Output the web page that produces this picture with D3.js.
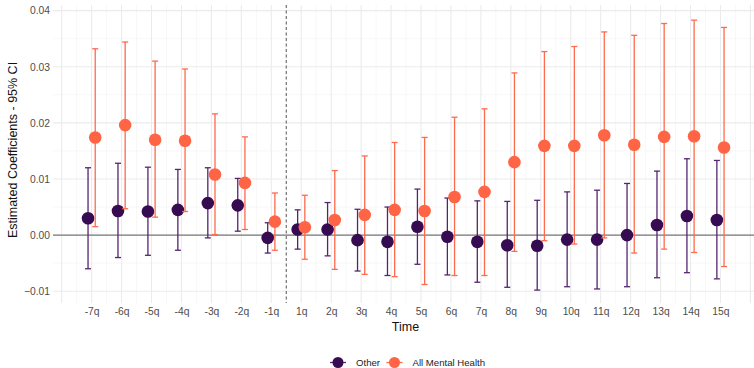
<!DOCTYPE html>
<html>
<head>
<meta charset="utf-8">
<script src="https://cdn.jsdelivr.net/npm/d3@7"></script>
<style>
  html, body { margin: 0; padding: 0; background: #fff; }
  svg { display: block; font-family: "Liberation Sans", Arial, Helvetica, sans-serif; }
</style>
</head>
<body>
<svg id="chart" width="754" height="368"></svg>
<script>
// Event-study quarters relative to treatment
const periods = ["-7q","-6q","-5q","-4q","-3q","-2q","-1q","1q","2q","3q","4q","5q","6q","7q","8q","9q","10q","11q","12q","13q","14q","15q"];

// "Other" series: estimate and 95% CI bounds
const otherEst = [0.0030, 0.0043, 0.0042, 0.0045, 0.0057, 0.0053, -0.0005, 0.0010, 0.0010, -0.0009, -0.0012, 0.0015, -0.0003, -0.0012, -0.0018, -0.0019, -0.0008, -0.0008, 0.0000, 0.0018, 0.0034, 0.0027];
const otherLo  = [-0.0060, -0.0040, -0.0036, -0.0027, -0.0005, 0.0007, -0.0032, -0.0025, -0.0037, -0.0064, -0.0072, -0.0052, -0.0071, -0.0084, -0.0093, -0.0098, -0.0092, -0.0096, -0.0092, -0.0076, -0.0067, -0.0078];
const otherHi  = [0.0120, 0.0128, 0.0121, 0.0117, 0.0120, 0.0101, 0.0022, 0.0045, 0.0058, 0.0046, 0.0050, 0.0082, 0.0066, 0.0061, 0.0060, 0.0062, 0.0077, 0.0080, 0.0092, 0.0114, 0.0136, 0.0133];

// "All Mental Health" series: estimate and 95% CI bounds
const mhEst = [0.0174, 0.0196, 0.0170, 0.0168, 0.0108, 0.0093, 0.0024, 0.0014, 0.0027, 0.0036, 0.0045, 0.0043, 0.0068, 0.0077, 0.0130, 0.0159, 0.0159, 0.0178, 0.0161, 0.0175, 0.0176, 0.0156];
const mhLo  = [0.0015, 0.0047, 0.0032, 0.0042, 0.0001, 0.0010, -0.0027, -0.0043, -0.0061, -0.0070, -0.0074, -0.0088, -0.0072, -0.0072, -0.0029, -0.0010, -0.0016, -0.0005, -0.0032, -0.0025, -0.0031, -0.0056];
const mhHi  = [0.0332, 0.0344, 0.0310, 0.0296, 0.0216, 0.0175, 0.0075, 0.0071, 0.0115, 0.0141, 0.0165, 0.0174, 0.0210, 0.0225, 0.0289, 0.0327, 0.0336, 0.0362, 0.0356, 0.0377, 0.0383, 0.0370];

const yTicks = [-0.01, 0.00, 0.01, 0.02, 0.03, 0.04];
const yMinor = [-0.005, 0.005, 0.015, 0.025, 0.035];

const seriesNames = ["Other", "All Mental Health"];
const dotColors = ["#370b52", "#ff6444"];
const barColors = ["#56246f", "#ff6a4c"];

const svg = d3.select("#chart");
const panel = { left: 53, right: 754, top: 5, bottom: 303 };

const x = d3.scaleLinear().domain([-1.29, 22.12]).range([panel.left, panel.right]);
const y = d3.scaleLinear().domain([-0.0121, 0.041]).range([panel.bottom, panel.top]);

// Grid: minor lines, then major lines
const grid = svg.append("g");
const xMinor = d3.range(-0.5, 22, 1);
const xMajor = d3.range(-1, 23, 1);
grid.selectAll(".vmin").data(xMinor).join("line")
  .attr("x1", d => x(d)).attr("x2", d => x(d))
  .attr("y1", panel.top).attr("y2", panel.bottom)
  .attr("stroke", "#f1f1f1").attr("stroke-width", 0.6);
grid.selectAll(".hmin").data(yMinor).join("line")
  .attr("x1", panel.left).attr("x2", panel.right)
  .attr("y1", d => y(d)).attr("y2", d => y(d))
  .attr("stroke", "#f1f1f1").attr("stroke-width", 0.6);
grid.selectAll(".vmaj").data(xMajor).join("line")
  .attr("x1", d => x(d)).attr("x2", d => x(d))
  .attr("y1", panel.top).attr("y2", panel.bottom)
  .attr("stroke", "#ebebeb").attr("stroke-width", 1.1);
grid.selectAll(".hmaj").data(yTicks).join("line")
  .attr("x1", panel.left).attr("x2", panel.right)
  .attr("y1", d => y(d)).attr("y2", d => y(d))
  .attr("stroke", "#ebebeb").attr("stroke-width", 1.1);

// Zero reference line
svg.append("line")
  .attr("x1", panel.left).attr("x2", panel.right)
  .attr("y1", y(0)).attr("y2", y(0))
  .attr("stroke", "#7a7a7a").attr("stroke-width", 1.4);

// Treatment onset between -1q and 1q
svg.append("line")
  .attr("x1", x(6.5)).attr("x2", x(6.5))
  .attr("y1", panel.top).attr("y2", panel.bottom)
  .attr("stroke", "#666").attr("stroke-width", 1.1)
  .attr("stroke-dasharray", "3,2.5");

// Y axis
const yAxis = d3.axisLeft(y).tickValues(yTicks).tickFormat(d3.format(".2f")).tickSize(0).tickPadding(3);
const gy = svg.append("g").attr("transform", `translate(${panel.left},0)`).call(yAxis);
gy.select(".domain").remove();
gy.selectAll("text").attr("fill", "#4d4d4d").style("font-size", "10.3px");

// X axis
const xAxis = d3.axisBottom(x).tickValues(d3.range(periods.length)).tickFormat(i => periods[i]).tickSize(0).tickPadding(5);
const gx = svg.append("g").attr("transform", `translate(0,${panel.bottom})`).call(xAxis);
gx.select(".domain").remove();
gx.selectAll("text").attr("fill", "#4d4d4d").style("font-size", "10.3px");

// Axis titles
svg.append("text")
  .attr("x", 405.5).attr("y", 331)
  .attr("text-anchor", "middle").style("font-size", "12.5px").attr("fill", "#111")
  .text("Time");
svg.append("text")
  .attr("transform", `translate(17,150) rotate(-90)`)
  .attr("text-anchor", "middle").style("font-size", "12.5px").attr("fill", "#111")
  .text("Estimated Coefficients - 95% CI");

// Series
const series = [
  { est: otherEst, lo: otherLo, hi: otherHi, dodge: -0.12 },
  { est: mhEst, lo: mhLo, hi: mhHi, dodge: 0.12 }
];
const capHalf = 3;
series.forEach((s, k) => {
  const g = svg.append("g");
  const rows = periods.map((p, i) => ({ i, est: s.est[i], lo: s.lo[i], hi: s.hi[i] }));
  const px = d => x(d.i + s.dodge);
  g.selectAll(".bar").data(rows).join("line")
    .attr("x1", px).attr("x2", px)
    .attr("y1", d => y(d.lo)).attr("y2", d => y(d.hi))
    .attr("stroke", barColors[k]).attr("stroke-width", 1.3);
  g.selectAll(".capHi").data(rows).join("line")
    .attr("x1", d => px(d) - capHalf).attr("x2", d => px(d) + capHalf)
    .attr("y1", d => y(d.hi)).attr("y2", d => y(d.hi))
    .attr("stroke", barColors[k]).attr("stroke-width", 1.3);
  g.selectAll(".capLo").data(rows).join("line")
    .attr("x1", d => px(d) - capHalf).attr("x2", d => px(d) + capHalf)
    .attr("y1", d => y(d.lo)).attr("y2", d => y(d.lo))
    .attr("stroke", barColors[k]).attr("stroke-width", 1.3);
  g.selectAll(".dot").data(rows).join("circle")
    .attr("cx", px).attr("cy", d => y(d.est)).attr("r", 6.3)
    .attr("fill", dotColors[k]);
});

// Legend
const legend = svg.append("g").attr("transform", "translate(0,362.5)");
const legendItems = [
  { name: seriesNames[0], x: 338 },
  { name: seriesNames[1], x: 394.5 }
];
legendItems.forEach((it, k) => {
  legend.append("line")
    .attr("x1", it.x - 8).attr("x2", it.x + 8).attr("y1", 0).attr("y2", 0)
    .attr("stroke", barColors[k]).attr("stroke-width", 1.3);
  legend.append("circle").attr("cx", it.x).attr("cy", 0).attr("r", 5.5).attr("fill", dotColors[k]);
  legend.append("text").attr("x", it.x + 18).attr("y", 3.5)
    .style("font-size", "9.6px").attr("fill", "#222").text(it.name);
});
</script>
</body>
</html>
